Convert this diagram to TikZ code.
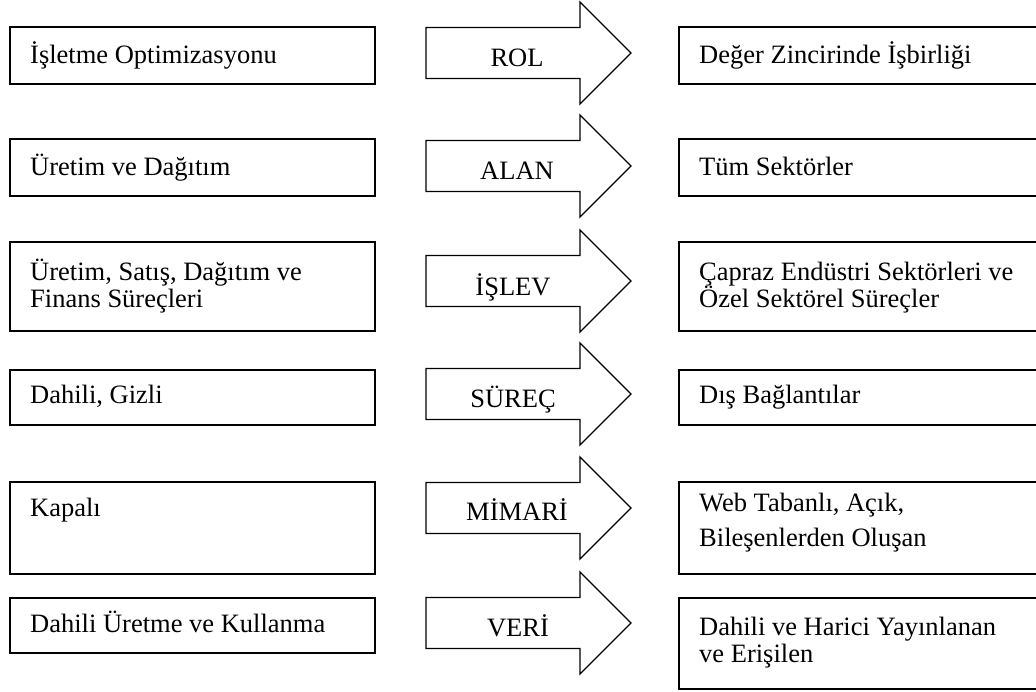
\documentclass[tikz,border=0pt]{standalone}
\usepackage{fontspec}
\setmainfont{Liberation Serif}
\begin{document}
\begin{tikzpicture}[x=1pt,y=-1pt,
  boxline/.style={draw=black,line width=1.8pt,inner sep=0pt,anchor=north west},
  arrowline/.style={draw=black,line width=1.3pt,line join=miter},
  txt/.style={anchor=base west,inner sep=0pt,font=\fontsize{26.5}{30}\selectfont},
  lbl/.style={anchor=base,inner sep=0pt,font=\fontsize{26.5}{30}\selectfont},
  bigarrow/.pic={\draw[arrowline] (-90,-25.5) -- (64,-25.5) -- (64,-51) -- (115,0)
      -- (64,51) -- (64,25.5) -- (-90,25.5) -- cycle;}]
\useasboundingbox (0,0) rectangle (1036,691);
\clip (0,0) rectangle (1036,691);
\fill[white] (0,0) rectangle (1036,691);

% left column boxes
\node[boxline,minimum width=365pt,minimum height=57pt] (L1) at (9,26) {};
\node[boxline,minimum width=365pt,minimum height=57pt] (L2) at (9,138) {};
\node[boxline,minimum width=365pt,minimum height=89pt] (L3) at (9,241) {};
\node[boxline,minimum width=365pt,minimum height=55pt] (L4) at (9,369) {};
\node[boxline,minimum width=365pt,minimum height=92pt] (L5) at (9,481) {};
\node[boxline,minimum width=365pt,minimum height=55pt] (L6) at (9,597) {};

% right column boxes (run past the right edge)
\node[boxline,minimum width=380pt,minimum height=57pt] (R1) at (678,26) {};
\node[boxline,minimum width=380pt,minimum height=57pt] (R2) at (678,138) {};
\node[boxline,minimum width=380pt,minimum height=89pt] (R3) at (678,241) {};
\node[boxline,minimum width=380pt,minimum height=55pt] (R4) at (678,369) {};
\node[boxline,minimum width=380pt,minimum height=92pt] (R5) at (678,481) {};
\node[boxline,minimum width=380pt,minimum height=91pt] (R6) at (678,597) {};

% block arrows, centred on each row
\pic at (516,53) {bigarrow};
\pic at (516,166) {bigarrow};
\pic at (516,281) {bigarrow};
\pic at (516,394) {bigarrow};
\pic at (516,508) {bigarrow};
\pic at (516,623) {bigarrow};

% arrow labels
\node[lbl] (A1) at (517,66) {ROL};
\node[lbl] (A2) at (517,179) {ALAN};
\node[lbl] (A3) at (513,295) {İŞLEV};
\node[lbl] (A4) at (513,407) {SÜREÇ};
\node[lbl] (A5) at (517,520) {MİMARİ};
\node[lbl] (A6) at (518,636) {VERİ};

% left texts
\node[txt] (L1t) at (30,63) {İşletme Optimizasyonu};
\node[txt] (L2t) at (30,175) {Üretim ve Dağıtım};
\node[txt] (L3a) at (30,280) {Üretim, Satış, Dağıtım ve};
\node[txt] (L3b) at (30,307) {Finans Süreçleri};
\node[txt] (L4t) at (30,403) {Dahili, Gizli};
\node[txt] (L5t) at (30,516) {Kapalı};
\node[txt] (L6t) at (30,632) {Dahili Üretme ve Kullanma};

% right texts
\node[txt] (R1t) at (699,63) {Değer Zincirinde İşbirliği};
\node[txt] (R2t) at (699,175) {Tüm Sektörler};
\node[txt] (R3a) at (699,280) {Çapraz Endüstri Sektörleri ve};
\node[txt] (R3b) at (699,307) {Özel Sektörel Süreçler};
\node[txt] (R4t) at (699,403) {Dış Bağlantılar};
\node[txt] (R5a) at (699,511) {Web Tabanlı, Açık,};
\node[txt] (R5b) at (699,546) {Bileşenlerden Oluşan};
\node[txt] (R6a) at (699,635) {Dahili ve Harici Yayınlanan};
\node[txt] (R6b) at (699,662) {ve Erişilen};
\end{tikzpicture}
\end{document}
